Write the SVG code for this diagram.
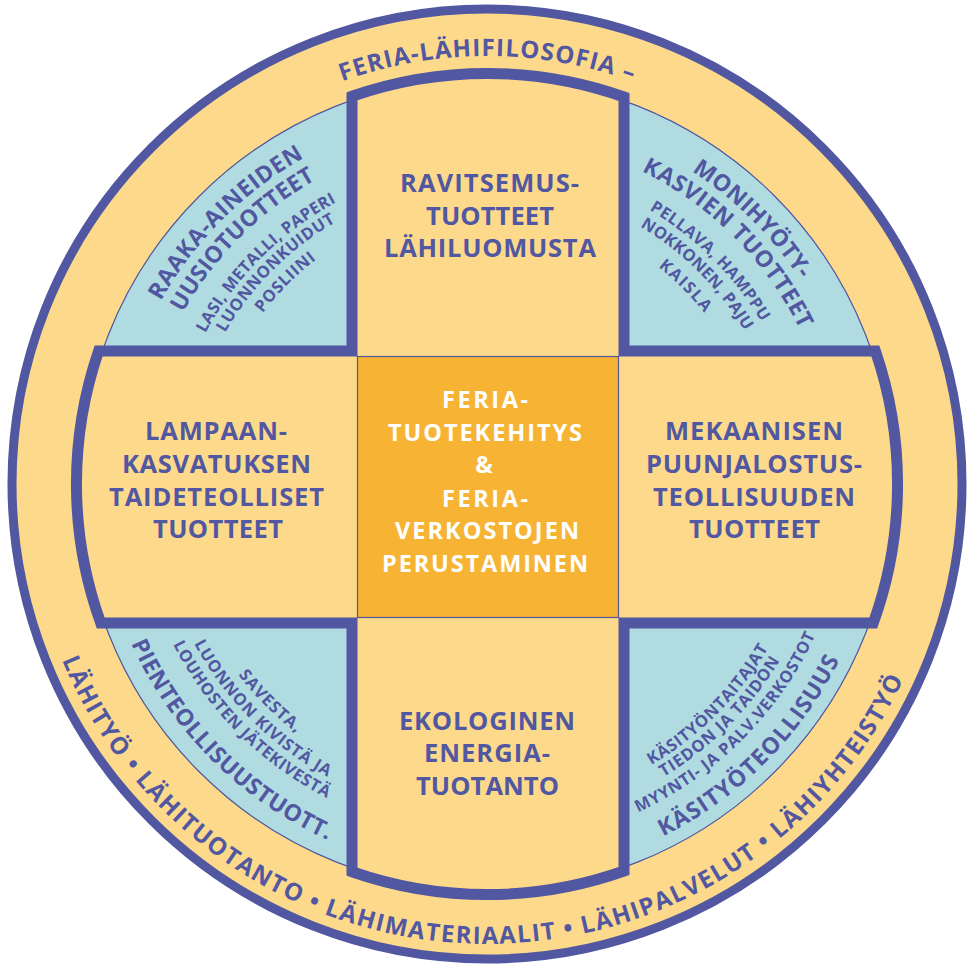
<svg xmlns="http://www.w3.org/2000/svg" width="973" height="966" viewBox="0 0 973 966">
<style>
.t{font-family:"Open Sans","Noto Sans","DejaVu Sans",sans-serif;font-weight:700;fill:#5157A0}
.a{font-size:25.5px;text-anchor:middle}
.c{font-size:23.5px;text-anchor:middle;fill:#fff}
.q{font-size:23px}
.s{font-size:16.5px}
.r{font-size:24px}
</style>
<defs>
<path id="pTop" d="M116.34,270 A428 428 0 0 1 857.66,270"/>
<path id="pBot" d="M27,484 A460 460 0 0 0 947,484"/>
<path id="tl1" d="M113,484 A374 374 0 0 1 487,110"/>
<path id="tl2" d="M138,484 A349 349 0 0 1 487,135"/>
<path id="tl3" d="M167.5,484 A319.5 319.5 0 0 1 487,164.5"/>
<path id="tl4" d="M184.5,484 A302.5 302.5 0 0 1 487,181.5"/>
<path id="tl5" d="M205,484 A282 282 0 0 1 487,202"/>
<path id="tr1" d="M487,110 A374 374 0 0 1 861,484"/>
<path id="tr2" d="M487,135 A349 349 0 0 1 836,484"/>
<path id="tr3" d="M487,165.5 A318.5 318.5 0 0 1 805.5,484"/>
<path id="tr4" d="M487,184.5 A299.5 299.5 0 0 1 786.5,484"/>
<path id="tr5" d="M487,207.5 A276.5 276.5 0 0 1 763.5,484"/>
<path id="bl1" d="M173.5,484 A313.5 313.5 0 0 0 487,797.5"/>
<path id="bl2" d="M153.5,484 A333.5 333.5 0 0 0 487,817.5"/>
<path id="bl3" d="M134.5,484 A352.5 352.5 0 0 0 487,836.5"/>
<path id="bl4" d="M97,484 A390 390 0 0 0 487,874"/>
<path id="br1" d="M487,809.5 A325.5 325.5 0 0 0 812.5,484"/>
<path id="br2" d="M487,826 A342 342 0 0 0 829,484"/>
<path id="br3" d="M487,845.5 A361.5 361.5 0 0 0 848.5,484"/>
<path id="br4" d="M487,878 A394 394 0 0 0 881,484"/>
</defs>
<rect width="973" height="966" fill="#fff"/>
<g id="ring">
<circle cx="487" cy="484" r="475" fill="#FDD98B" stroke="#5157A0" stroke-width="9"/>
<text class="t r"><textPath href="#pTop" startOffset="50%" text-anchor="middle" textLength="296">FERIA-LÄHIFILOSOFIA –</textPath></text>
<text class="t r"><textPath href="#pBot" startOffset="711.7" text-anchor="middle" textLength="1062">LÄHITYÖ • LÄHITUOTANTO • LÄHIMATERIAALIT • LÄHIPALVELUT • LÄHIYHTEISTYÖ</textPath></text>
</g>
<g id="quadrants-bg">
<circle cx="487" cy="484" r="407" fill="#B0DCE1" stroke="#5157A0" stroke-width="1.2"/>
</g>
<g id="cross">
<path d="M352,351 L352,96.3 A410.5 410.5 0 0 1 624,97 L624,351 L875.4,351 A410.5 410.5 0 0 1 873.3,623 L624,623 L624,871 A410.5 410.5 0 0 1 352,871.7 L352,623 L100.7,623 A410.5 410.5 0 0 1 98.6,351 Z" fill="#FDD98B" stroke="#5157A0" stroke-width="11" stroke-linejoin="miter"/>
</g>
<g id="center">
<rect x="357.5" y="356.5" width="261" height="261" fill="#F7B334" stroke="#5157A0" stroke-width="1.2"/>
<text class="t c" x="485" y="408" textLength="86">FERIA-</text>
<text class="t c" x="485" y="441" textLength="194">TUOTEKEHITYS</text>
<text class="t c" x="484" y="473">&amp;</text>
<text class="t c" x="485" y="507" textLength="86">FERIA-</text>
<text class="t c" x="487" y="539" textLength="184">VERKOSTOJEN</text>
<text class="t c" x="485" y="572" textLength="206">PERUSTAMINEN</text>
</g>
<g id="arm-top">
<text class="t a" x="489.5" y="192" textLength="179">RAVITSEMUS-</text>
<text class="t a" x="490" y="225" textLength="128">TUOTTEET</text>
<text class="t a" x="490" y="257" textLength="212">LÄHILUOMUSTA</text>
</g>
<g id="arm-left">
<text class="t a" x="216" y="440" textLength="142">LAMPAAN-</text>
<text class="t a" x="216.5" y="472.5" textLength="189">KASVATUKSEN</text>
<text class="t a" x="216.5" y="505.5" textLength="215">TAIDETEOLLISET</text>
<text class="t a" x="218" y="538.3" textLength="130">TUOTTEET</text>
</g>
<g id="arm-right">
<text class="t a" x="754" y="440" textLength="178">MEKAANISEN</text>
<text class="t a" x="754" y="472.7" textLength="216">PUUNJALOSTUS-</text>
<text class="t a" x="754" y="506" textLength="202">TEOLLISUUDEN</text>
<text class="t a" x="754.5" y="538" textLength="131">TUOTTEET</text>
</g>
<g id="arm-bottom">
<text class="t a" x="487" y="729.5" textLength="176">EKOLOGINEN</text>
<text class="t a" x="487" y="762" textLength="126">ENERGIA-</text>
<text class="t a" x="487.5" y="795" textLength="143">TUOTANTO</text>
</g>
<g id="quad-tl">
<text class="t q"><textPath href="#tl1" startOffset="50%" text-anchor="middle" textLength="205">RAAKA-AINEIDEN</textPath></text>
<text class="t q"><textPath href="#tl2" startOffset="50%" text-anchor="middle" textLength="190">UUSIOTUOTTEET</textPath></text>
<text class="t s"><textPath href="#tl3" startOffset="50%" text-anchor="middle" textLength="188">LASI, METALLI, PAPERI</textPath></text>
<text class="t s"><textPath href="#tl4" startOffset="50%" text-anchor="middle" textLength="158">LUONNONKUIDUT</textPath></text>
<text class="t s"><textPath href="#tl5" startOffset="50%" text-anchor="middle" textLength="76">POSLIINI</textPath></text>
</g>
<g id="quad-tr">
<text class="t q"><textPath href="#tr1" startOffset="50%" text-anchor="middle" textLength="154">MONIHYÖTY-</textPath></text>
<text class="t q"><textPath href="#tr2" startOffset="50%" text-anchor="middle" textLength="228">KASVIEN TUOTTEET</textPath></text>
<text class="t s"><textPath href="#tr3" startOffset="50%" text-anchor="middle" textLength="160">PELLAVA, HAMPPU</textPath></text>
<text class="t s"><textPath href="#tr4" startOffset="50%" text-anchor="middle" textLength="149">NOKKONEN, PAJU</textPath></text>
<text class="t s"><textPath href="#tr5" startOffset="50%" text-anchor="middle" textLength="65">KAISLA</textPath></text>
</g>
<g id="quad-bl">
<text class="t s"><textPath href="#bl1" startOffset="50%" text-anchor="middle" textLength="82">SAVESTA,</textPath></text>
<text class="t s"><textPath href="#bl2" startOffset="50%" text-anchor="middle" textLength="191">LUONNON KIVISTÄ JA</textPath></text>
<text class="t s"><textPath href="#bl3" startOffset="50%" text-anchor="middle" textLength="221">LOUHOSTEN JÄTEKIVESTÄ</textPath></text>
<text class="t q"><textPath href="#bl4" startOffset="50%" text-anchor="middle" textLength="284">PIENTEOLLISUUSTUOTT.</textPath></text>
</g>
<g id="quad-br">
<text class="t s"><textPath href="#br1" startOffset="50%" text-anchor="middle" textLength="167">KÄSITYÖNTAITAJAT</textPath></text>
<text class="t s"><textPath href="#br2" startOffset="50%" text-anchor="middle" textLength="166">TIEDON JA TAIDON</textPath></text>
<text class="t s"><textPath href="#br3" startOffset="50%" text-anchor="middle" textLength="256">MYYNTI- JA PALV.VERKOSTOT</textPath></text>
<text class="t q"><textPath href="#br4" startOffset="50%" text-anchor="middle" textLength="254">KÄSITYÖTEOLLISUUS</textPath></text>
</g>
</svg>
